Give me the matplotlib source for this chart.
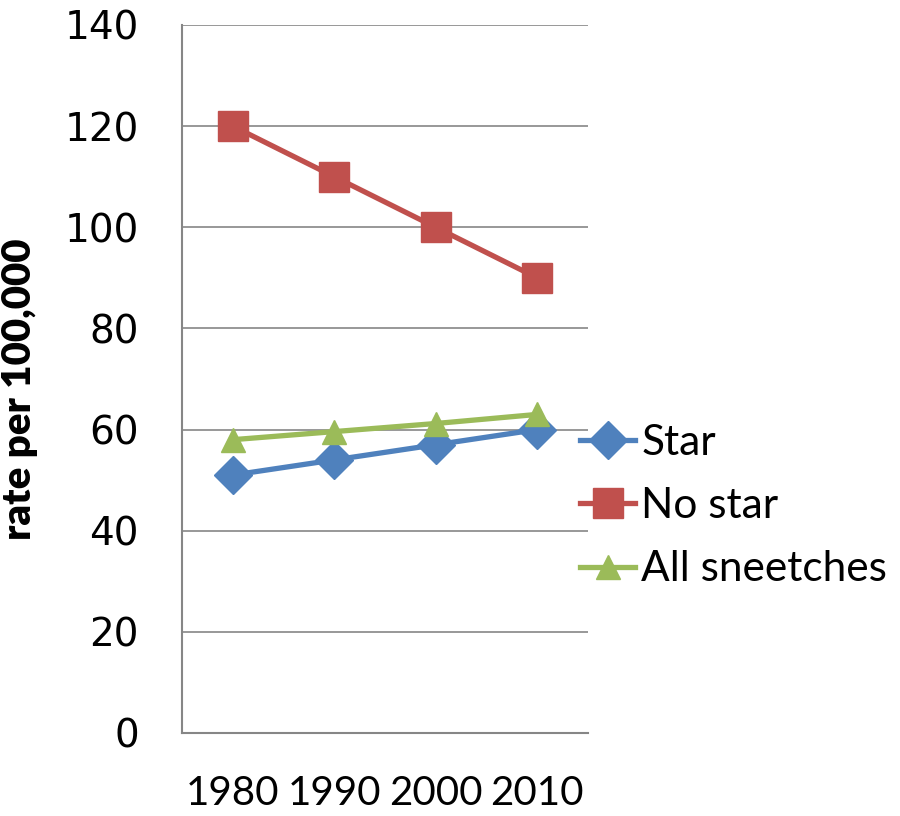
import matplotlib
matplotlib.use("Agg")
import matplotlib.pyplot as plt

categories = ["1980", "1990", "2000", "2010"]
star = [51, 54, 57, 60]
no_star = [120, 110, 100, 90]
all_sneetches = [58, 59.6, 61.2, 63]
y_ticks = [0, 20, 40, 60, 80, 100, 120, 140]

fig = plt.figure(figsize=(9, 8.16), dpi=100)
ax = fig.add_axes([182/900, 1-733/816, (588-182)/900, (733-25)/816])

x = list(range(len(categories)))
l1, = ax.plot(x, star, color="#4F81BD", lw=3.8, marker="D", ms=19, label="Star", zorder=3)
l2, = ax.plot(x, no_star, color="#C0504D", lw=3.8, marker="s", ms=22, label="No star", zorder=3)
l3, = ax.plot(x, all_sneetches, color="#9BBB59", lw=3.8, marker="^", ms=17, label="All sneetches", zorder=4)

ax.set_xlim(-0.5, 3.5)
ax.set_ylim(0, 140)
ax.set_yticks(y_ticks)
ax.set_xticks(x)
ax.set_xticklabels(categories, family="Lato", fontsize=29)
ax.set_yticklabels([str(v) for v in y_ticks], family="DejaVu Sans", fontsize=28)
ax.tick_params(axis="both", length=0)
ax.tick_params(axis="x", pad=30)
ax.tick_params(axis="y", pad=31)
ax.grid(axis="y", color="#868686", lw=1.2)
ax.set_axisbelow(True)
for s in ["top", "right"]:
    ax.spines[s].set_visible(False)
for s in ["left", "bottom"]:
    ax.spines[s].set_color("#868686")
    ax.spines[s].set_linewidth(1.5)

ax.set_ylabel("rate per 100,000", family="Lato", fontweight="heavy", fontsize=29)
ax.yaxis.set_label_coords(-0.355, 0.485)

leg = fig.legend(handles=[l1, l2, l3], loc="center left", bbox_to_anchor=(580/900, 1-506/816),
                 frameon=False, prop={"family": "Lato", "size": 30.5}, handlelength=1.3,
                 handletextpad=0.15, labelspacing=0.6, borderaxespad=0, borderpad=0)

fig.savefig("out.png", dpi=100)
